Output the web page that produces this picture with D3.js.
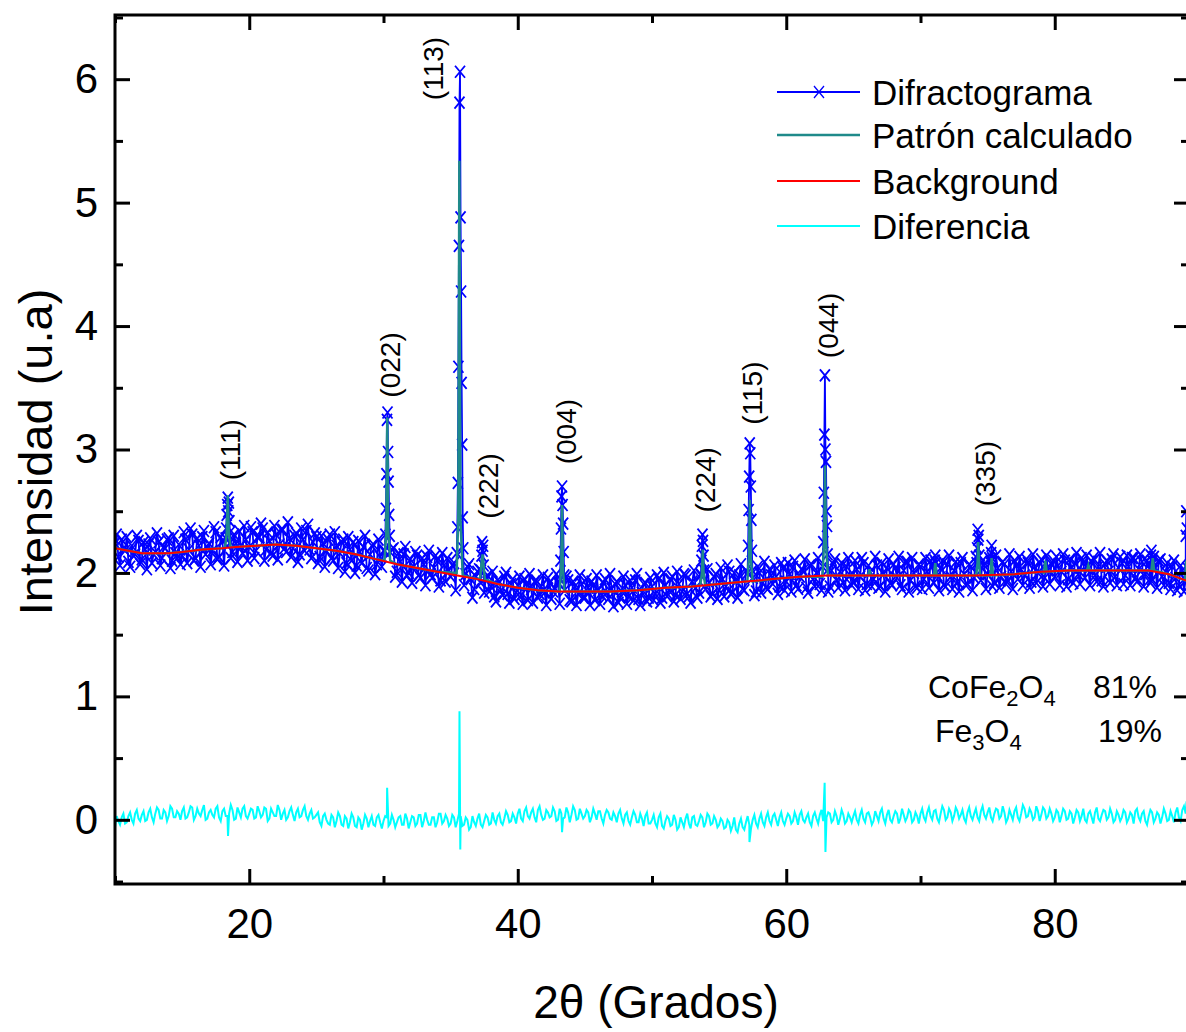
<!DOCTYPE html>
<html>
<head>
<meta charset="utf-8">
<script src="https://cdn.jsdelivr.net/npm/d3@7"></script>
<style>
  body { margin: 0; background: #fff; }
  text { font-family: "Liberation Sans", Arial, sans-serif; fill: #000; }
</style>
</head>
<body>
<div id="chart"></div>
<script>
// 2θ grid of the measured pattern (outside the peaks); a second set sits halfway between
const thetaStart = 10, thetaStep = 0.25, thetaHalf = 0.125;

// Difractograma, every 0.25° (10 … 90)
const observedGrid = [
  2.24, 2.13, 2.27, 2.18, 2.09, 2.22, 2.15, 2.26, 2.11, 2.19, 2.23, 2.08, 2.17, 2.25, 2.12, 2.20, 2.28, 2.10, 2.16, 2.23,
  2.14, 2.27, 2.19, 2.31, 2.12, 2.22, 2.29, 2.15, 2.24, 2.18, 2.33, 2.13, 2.26, 2.20, 2.30, 2.17, 2.24, 2.34, 2.16, 2.27,
  2.21, 2.33, 2.18, 2.29, 2.36, 2.19, 2.26, 2.14, 2.31, 2.23, 2.35, 2.17, 2.28, 2.20, 2.32, 2.15, 2.27, 2.34, 2.19, 2.25,
  2.29, 2.13, 2.24, 2.18, 2.31, 2.10, 2.22, 2.16, 2.27, 2.08, 2.19, 2.25, 2.06, 2.17, 2.21, 2.04, 2.15, 2.23, 2.07, 2.13,
  2.18, 2.03, 2.12, 2.20, 2.01, 2.09, 2.15, 1.98, 2.11, 2.05, 2.14, 1.96, 2.07, 2.13, 1.99, 2.04, 2.10, 1.94, 2.06, 2.12,
  1.97, 2.08, 1.93, 2.03, 1.90, 2.05, 1.95, 1.87, 2.01, 1.92, 1.84, 1.98, 1.89, 1.81, 1.94, 1.86, 1.97, 1.83, 1.91, 1.79,
  1.90, 1.82, 1.95, 1.78, 1.87, 1.93, 1.80, 1.89, 1.84, 1.96, 1.79, 1.88, 1.92, 1.81, 1.86, 1.94, 1.77, 1.89, 1.83, 1.91,
  1.80, 1.88, 1.93, 1.78, 1.86, 1.82, 1.95, 1.79, 1.87, 1.91, 1.76, 1.85, 1.90, 1.81, 1.88, 1.94, 1.79, 1.84, 1.92, 1.80,
  1.89, 1.83, 1.95, 1.80, 1.90, 1.86, 1.97, 1.82, 1.91, 1.85, 1.98, 1.81, 1.93, 1.88, 1.84, 1.96, 1.87, 1.92, 1.83, 1.99,
  1.86, 1.95, 1.89, 2.01, 1.84, 1.93, 1.98, 1.87, 2.02, 1.90, 1.96, 1.85, 2.00, 1.92, 1.88, 2.03, 1.91, 1.97, 1.89, 2.04,
  1.93, 1.99, 2.05, 1.90, 1.97, 2.02, 1.88, 2.06, 1.95, 2.00, 1.91, 2.04, 1.96, 1.89, 2.07, 1.94, 2.01, 1.92, 2.05, 1.98,
  1.93, 2.03, 1.97, 2.08, 1.91, 2.01, 1.95, 2.06, 1.89, 1.99, 2.04, 1.92, 2.07, 1.96, 1.90, 2.02, 2.09, 1.94, 2.00, 1.88,
  2.05, 1.95, 2.01, 2.10, 1.92, 1.98, 2.04, 1.90, 2.07, 1.97, 2.02, 1.93, 2.08, 1.99, 1.91, 2.05, 1.96, 2.03, 1.94, 2.06,
  1.99, 2.09, 1.92, 2.04, 1.97, 2.07, 1.94, 2.01, 2.10, 1.95, 2.03, 1.98, 2.08, 1.93, 2.05, 2.00, 2.11, 1.96, 2.02, 2.07,
  1.97, 2.06, 2.01, 2.10, 1.95, 2.04, 2.08, 1.99, 2.12, 1.96, 2.03, 2.09, 1.98, 2.05, 1.94, 2.07, 2.01, 2.11, 1.97, 2.04,
  2.08, 1.98, 2.05, 2.12, 1.96, 2.03, 2.09, 1.99, 2.06, 1.95, 2.04, 2.10, 1.97, 2.01, 1.92, 2.05, 1.96, 1.90, 2.02, 1.94,
  1.97
];

// Difractograma between those, at 10.125 … 89.875
const observedHalf = [
  2.31, 2.06, 2.20, 2.29, 2.05, 2.14, 2.30, 2.07, 2.25, 2.03, 2.28, 2.15, 2.32, 2.06, 2.21, 2.27, 2.04, 2.30, 2.12, 2.07,
  2.33, 2.08, 2.36, 2.10, 2.28, 2.05, 2.34, 2.21, 2.07, 2.37, 2.11, 2.29, 2.06, 2.35, 2.12, 2.31, 2.09, 2.22, 2.38, 2.10,
  2.37, 2.12, 2.29, 2.40, 2.10, 2.33, 2.16, 2.38, 2.11, 2.35, 2.20, 2.41, 2.13, 2.30, 2.09, 2.36, 2.18, 2.39, 2.12, 2.32,
  2.08, 2.30, 2.05, 2.27, 2.12, 2.33, 2.04, 2.25, 2.01, 2.29, 2.10, 2.00, 2.26, 2.08, 2.30, 2.02, 2.22, 1.99, 2.27, 2.05,
  2.14, 1.95, 2.19, 1.97, 2.16, 1.93, 2.21, 2.00, 1.92, 2.17, 1.98, 2.12, 1.90, 2.18, 1.96, 2.14, 1.89, 2.16, 1.93, 2.02,
  2.06, 1.86, 2.10, 1.84, 1.99, 2.07, 1.80, 1.97, 2.03, 1.78, 1.96, 1.85, 2.01, 1.77, 1.93, 1.82, 2.00, 1.76, 1.95, 1.84,
  1.97, 1.75, 1.91, 1.99, 1.76, 1.94, 1.83, 1.98, 1.74, 1.92, 1.85, 1.99, 1.75, 1.90, 1.97, 1.78, 1.93, 1.74, 1.98, 1.80,
  1.95, 1.74, 1.90, 1.98, 1.75, 1.92, 1.84, 1.99, 1.73, 1.93, 1.80, 1.97, 1.75, 1.94, 1.78, 1.99, 1.74, 1.91, 1.77, 1.96,
  1.78, 1.98, 1.76, 2.00, 1.81, 1.95, 1.77, 2.01, 1.79, 1.99, 1.83, 1.76, 2.02, 1.80, 1.99, 1.78, 2.03, 1.81, 1.97, 1.79,
  2.04, 1.81, 2.06, 1.83, 2.00, 1.80, 2.07, 1.86, 1.96, 2.08, 1.82, 2.05, 1.84, 2.09, 1.87, 1.98, 2.06, 1.83, 2.08, 1.86,
  2.08, 1.85, 2.10, 1.87, 2.03, 2.11, 1.84, 2.07, 1.89, 2.12, 1.86, 2.09, 1.85, 2.02, 2.11, 1.88, 2.08, 1.86, 2.12, 1.90,
  2.10, 1.87, 2.12, 1.86, 2.06, 1.89, 2.13, 1.88, 2.08, 1.85, 2.11, 1.90, 2.04, 2.13, 1.87, 2.09, 1.85, 2.12, 1.89, 2.07,
  1.87, 2.12, 1.88, 2.06, 2.13, 1.86, 2.10, 1.89, 2.14, 1.87, 2.09, 1.85, 2.12, 1.90, 2.07, 1.86, 2.13, 1.88, 2.10, 1.87,
  2.12, 1.89, 2.14, 1.88, 2.09, 1.91, 2.15, 1.87, 2.06, 2.13, 1.90, 2.11, 1.88, 2.15, 1.92, 2.08, 1.89, 2.14, 1.91, 2.10,
  2.13, 1.90, 2.15, 1.89, 2.11, 1.92, 2.16, 1.91, 2.08, 2.14, 1.90, 2.12, 1.93, 2.16, 1.89, 2.10, 1.92, 2.15, 1.90, 2.13,
  1.91, 2.14, 1.90, 2.12, 1.93, 2.15, 1.89, 2.10, 1.92, 2.13, 1.88, 2.11, 1.90, 2.08, 1.87, 2.10, 1.86, 2.06, 1.85, 2.04
];

// measured points on the reflections [2θ, I]
const observedPeaks = [
  [[18.24, 2.28], [18.28, 2.36], [18.32, 2.47], [18.36, 2.55], [18.40, 2.61], [18.44, 2.50], [18.48, 2.57], [18.52, 2.42], [18.56, 2.33], [18.60, 2.25]],
  [[30.10, 2.18], [30.14, 2.31], [30.18, 2.52], [30.22, 2.80], [30.26, 3.24], [30.30, 3.30], [30.34, 2.98], [30.38, 2.74], [30.42, 2.47], [30.46, 2.30], [30.50, 2.17]],
  [[35.46, 2.16], [35.50, 2.37], [35.54, 2.73], [35.58, 3.67], [35.62, 4.65], [35.66, 5.81], [35.70, 6.06], [35.74, 4.88], [35.78, 4.28], [35.82, 3.54], [35.86, 3.04], [35.90, 2.45], [35.94, 2.20]],
  [[37.26, 2.02], [37.30, 2.14], [37.34, 2.25], [37.38, 2.18], [37.42, 2.22], [37.46, 2.06]],
  [[43.14, 1.95], [43.18, 2.10], [43.22, 2.36], [43.26, 2.62], [43.30, 2.70], [43.34, 2.55], [43.38, 2.40], [43.42, 2.17], [43.46, 1.98]],
  [[53.64, 1.98], [53.68, 2.10], [53.72, 2.22], [53.76, 2.31], [53.80, 2.26], [53.84, 2.14], [53.88, 2.02]],
  [[57.12, 2.00], [57.16, 2.22], [57.20, 2.51], [57.24, 2.78], [57.28, 3.05], [57.32, 2.97], [57.36, 2.70], [57.40, 2.43], [57.44, 2.18], [57.48, 2.02]],
  [[62.72, 2.05], [62.76, 2.25], [62.80, 2.65], [62.84, 3.12], [62.88, 3.60], [62.92, 3.00], [62.96, 2.90], [63.00, 2.50], [63.04, 2.38], [63.08, 2.15], [63.12, 2.03]],
  [[71.06, 2.10], [71.10, 2.14], [71.14, 2.08]],
  [[74.18, 2.08], [74.22, 2.20], [74.26, 2.35], [74.30, 2.27], [74.34, 2.30], [74.38, 2.14], [74.42, 2.06]],
  [[75.26, 2.16], [75.30, 2.22], [75.34, 2.12]],
  [[87.16, 2.14], [87.20, 2.18], [87.24, 2.10]],
  [[89.76, 2.30], [89.80, 2.50], [89.84, 2.36]]
];

// Background (red)
const backgroundNodes = [
  [10, 2.20], [11, 2.18], [12, 2.16], [14, 2.16], [15, 2.17], [16.5, 2.19], [18, 2.20], [19, 2.21],
  [20.5, 2.22], [22, 2.23], [23.5, 2.22], [25, 2.20], [26.5, 2.18], [28, 2.15], [29.5, 2.11], [31, 2.07],
  [32.5, 2.04], [34, 2.01], [35.5, 1.98], [37, 1.95], [38.5, 1.91], [40, 1.88], [41.5, 1.86], [43, 1.85],
  [45, 1.85], [47, 1.85], [49, 1.86], [51, 1.88], [53, 1.89], [55, 1.91], [57, 1.93], [59, 1.95],
  [61, 1.97], [63, 1.98], [66, 1.98], [70, 1.98], [74, 1.98], [77, 1.99], [79, 2.01], [81, 2.02],
  [84, 2.02], [87, 2.02], [88.5, 1.99], [90, 1.93]
];

// Patrón calculado: reflections on top of the background [2θ, I]
const calculatedPeaks = [
  [[18.20, 2.21], [18.32, 2.32], [18.40, 2.63], [18.48, 2.32], [18.60, 2.21]],
  [[30.08, 2.10], [30.20, 2.32], [30.28, 3.26], [30.36, 2.32], [30.50, 2.10]],
  [[35.45, 2.00], [35.57, 2.45], [35.65, 5.34], [35.73, 2.45], [35.90, 1.98]],
  [[37.20, 1.96], [37.32, 2.10], [37.38, 2.15], [37.44, 2.08], [37.55, 1.95]],
  [[43.12, 1.85], [43.24, 2.05], [43.30, 2.55], [43.36, 2.05], [43.48, 1.85]],
  [[53.60, 1.90], [53.72, 2.00], [53.78, 2.19], [53.84, 2.00], [53.96, 1.90]],
  [[57.10, 1.93], [57.22, 2.12], [57.29, 2.59], [57.36, 2.12], [57.50, 1.93]],
  [[62.70, 1.97], [62.82, 2.25], [62.89, 2.87], [62.96, 2.25], [63.10, 1.98]],
  [[66.10, 1.98], [66.20, 2.03], [66.30, 1.98]],
  [[71.00, 1.98], [71.10, 2.08], [71.20, 1.98]],
  [[74.15, 1.98], [74.25, 2.08], [74.30, 2.25], [74.36, 2.08], [74.45, 1.98]],
  [[75.20, 1.98], [75.30, 2.12], [75.40, 1.98]],
  [[79.20, 2.00], [79.30, 2.10], [79.40, 2.01]],
  [[82.40, 2.02], [82.50, 2.06], [82.60, 2.02]],
  [[87.20, 2.02], [87.30, 2.12], [87.40, 2.02]],
  [[89.70, 1.94], [89.80, 2.10], [89.90, 1.93]]
];

// Diferencia (cyan), same 0.25° grid
const differenceGrid = [
  -0.06, -0.01, 0.02, -0.03, 0.03, 0.00, 0.05, 0.01, 0.04, -0.01, 0.06, 0.02, 0.05, 0.08, 0.01, 0.06, 0.03, 0.09, 0.02, 0.05,
  0.07, 0.01, 0.06, 0.10, 0.03, 0.05, 0.08, 0.00, 0.06, 0.04, 0.09, 0.02, 0.07, 0.03, 0.05, 0.08, 0.01, 0.06, 0.09, 0.03,
  0.05, 0.08, 0.02, 0.07, 0.04, 0.09, 0.01, 0.06, 0.03, 0.08, 0.05, 0.00, 0.07, 0.04, 0.06, 0.02, 0.08, 0.03, 0.05, 0.01,
  0.04, -0.02, 0.03, 0.00, -0.04, 0.02, -0.01, 0.03, -0.05, 0.01, -0.02, 0.02, -0.06, 0.00, -0.03, 0.01, -0.01, -0.04, 0.02, -0.02,
  -0.01, 0.02, -0.03, 0.00, -0.02, 0.03, -0.04, 0.01, -0.02, 0.02, -0.03, 0.04, -0.01, 0.00, -0.04, 0.02, -0.02, 0.05, -0.01, 0.01,
  -0.03, 0.02, -0.01, 0.03, -0.04, 0.00, -0.06, -0.02, 0.01, -0.04, -0.01, 0.02, -0.03, 0.00, 0.03, -0.02, 0.01, 0.04, -0.01, 0.02,
  0.05, 0.01, 0.07, 0.03, 0.06, 0.02, 0.08, 0.04, 0.01, 0.06, 0.03, 0.07, 0.00, 0.05, 0.02, 0.06, 0.04, 0.08, 0.01, 0.05,
  0.03, 0.06, 0.02, 0.05, 0.07, 0.01, 0.04, 0.06, 0.00, 0.03, 0.05, 0.01, 0.04, -0.01, 0.02, 0.04, -0.02, 0.01, 0.03, -0.03,
  0.00, -0.03, 0.02, -0.05, -0.01, 0.01, -0.04, 0.00, -0.06, -0.02, 0.01, -0.03, 0.02, -0.04, -0.01, 0.02, -0.02, 0.03, -0.03, 0.00,
  -0.04, -0.01, -0.06, -0.02, -0.05, -0.08, -0.03, -0.06, -0.02, -0.04, 0.00, -0.03, 0.01, -0.02, 0.02, -0.01, 0.03, 0.00, 0.02, -0.01,
  0.01, 0.03, -0.01, 0.02, 0.04, 0.00, 0.02, -0.02, 0.03, 0.01, 0.04, -0.01, 0.02, 0.05, 0.00, 0.03, 0.01, 0.04, -0.01, 0.02,
  0.03, 0.00, 0.04, 0.01, 0.05, 0.02, -0.01, 0.03, 0.06, 0.01, 0.04, 0.00, 0.03, 0.05, 0.01, 0.04, 0.02, 0.06, 0.00, 0.03,
  0.05, 0.02, 0.06, 0.03, 0.07, 0.01, 0.05, 0.08, 0.02, 0.06, 0.03, 0.07, 0.04, 0.01, 0.06, 0.03, 0.05, 0.02, 0.07, 0.04,
  0.06, 0.02, 0.05, 0.08, 0.03, 0.06, 0.01, 0.04, 0.07, 0.02, 0.05, 0.09, 0.03, 0.06, 0.02, 0.07, 0.04, 0.08, 0.03, 0.05,
  0.02, 0.06, 0.03, 0.07, 0.01, 0.05, 0.02, 0.06, 0.03, 0.00, 0.05, 0.02, 0.06, 0.01, 0.04, 0.07, 0.02, 0.05, 0.00, 0.04,
  0.02, 0.06, 0.01, 0.04, 0.07, 0.02, 0.05, -0.01, 0.03, 0.06, 0.01, 0.04, 0.02, 0.05, 0.00, 0.03, 0.06, 0.02, 0.08, 0.05,
  0.10
];

// Diferencia between those, at 10.125 … 89.875
const differenceHalf = [
  0.03, -0.04, 0.05, -0.02, 0.06, -0.03, 0.08, -0.01, 0.07, 0.00, 0.09, -0.02, 0.10, 0.01, 0.08, -0.01, 0.11, 0.02, 0.07, 0.00,
  0.10, 0.02, 0.11, 0.00, 0.09, 0.03, 0.12, 0.01, 0.08, 0.02, 0.11, -0.01, 0.09, 0.03, 0.12, 0.00, 0.10, 0.02, 0.11, 0.01,
  0.09, 0.01, 0.11, 0.02, 0.10, -0.01, 0.09, 0.03, 0.12, 0.00, 0.08, 0.02, 0.10, -0.01, 0.09, 0.03, 0.11, 0.00, 0.08, 0.02,
  0.06, -0.05, 0.05, -0.03, 0.04, -0.06, 0.06, -0.04, 0.03, -0.07, 0.05, -0.05, 0.02, -0.08, 0.04, -0.06, 0.03, -0.05, 0.04, -0.07,
  0.03, -0.05, 0.04, -0.06, 0.02, -0.04, 0.05, -0.07, 0.03, -0.05, 0.04, -0.06, 0.06, -0.04, 0.02, -0.06, 0.05, -0.03, 0.04, -0.05,
  0.04, -0.06, 0.05, -0.05, 0.02, -0.08, 0.03, -0.05, 0.05, -0.06, 0.04, -0.04, 0.06, -0.03, 0.05, -0.04, 0.07, -0.02, 0.05, -0.03,
  0.09, -0.01, 0.10, 0.01, 0.09, -0.02, 0.11, 0.00, 0.08, 0.02, 0.10, -0.01, 0.09, 0.01, 0.10, -0.02, 0.11, 0.00, 0.09, 0.01,
  0.08, -0.02, 0.09, 0.00, 0.07, -0.03, 0.08, 0.01, 0.06, -0.02, 0.08, -0.03, 0.06, -0.04, 0.07, -0.02, 0.05, -0.05, 0.06, -0.03,
  0.04, -0.06, 0.05, -0.07, 0.03, -0.05, 0.04, -0.08, 0.02, -0.06, 0.05, -0.07, 0.03, -0.05, 0.04, -0.06, 0.05, -0.04, 0.03, -0.06,
  0.01, -0.07, 0.00, -0.09, 0.02, -0.10, 0.01, -0.08, 0.03, -0.07, 0.04, -0.06, 0.05, -0.05, 0.06, -0.04, 0.05, -0.05, 0.06, -0.04,
  0.05, -0.03, 0.06, -0.04, 0.07, -0.02, 0.05, -0.05, 0.06, -0.03, 0.08, -0.04, 0.06, -0.02, 0.07, -0.04, 0.08, -0.03, 0.05, -0.02,
  0.07, -0.03, 0.08, -0.02, 0.06, -0.04, 0.07, -0.01, 0.09, -0.03, 0.08, -0.02, 0.07, -0.03, 0.09, -0.01, 0.08, -0.02, 0.06, -0.03,
  0.09, -0.01, 0.10, 0.00, 0.08, -0.02, 0.11, 0.00, 0.09, -0.01, 0.10, 0.01, 0.08, -0.02, 0.10, 0.00, 0.09, -0.01, 0.11, 0.01,
  0.10, -0.01, 0.09, 0.01, 0.11, -0.02, 0.08, 0.00, 0.10, -0.01, 0.12, 0.02, 0.09, 0.00, 0.11, -0.01, 0.10, 0.01, 0.09, -0.01,
  0.08, -0.02, 0.09, 0.00, 0.07, -0.03, 0.08, -0.01, 0.09, -0.02, 0.07, -0.03, 0.10, -0.01, 0.08, 0.00, 0.09, -0.02, 0.07, -0.01,
  0.08, -0.02, 0.06, -0.03, 0.09, -0.01, 0.07, -0.04, 0.08, -0.02, 0.06, -0.03, 0.09, -0.01, 0.07, -0.02, 0.10, -0.01, 0.11, 0.03
];

// spikes of the difference at the reflections [2θ, Δ]
const differenceSpikes = [
  [[18.42, -0.13]],
  [[30.27, 0.26]],
  [[35.66, 0.88], [35.72, -0.24]],
  [[43.30, -0.10]],
  [[57.26, -0.18]],
  [[62.86, 0.30], [62.92, -0.26]],
  [[89.82, 0.15]]
];

// Miller indices and where their labels sit (2θ, intensity at label foot)
const peakLabels = ["(111)", "(022)", "(113)", "(222)", "(004)", "(224)", "(115)", "(044)", "(335)"];
const peakLabelTheta = [18.57, 30.48, 33.69, 37.78, 43.6, 53.95, 57.45, 63.11, 74.8];
const peakLabelBase = [2.75, 3.42, 5.83, 2.44, 2.88, 2.49, 3.20, 3.74, 2.54];

const legendNames = ["Difractograma", "Patrón calculado", "Background", "Diferencia"];
const legendColors = ["#0000ff", "#1f8a8a", "#ff0000", "#00ffff"];

const xTicks = [20, 40, 60, 80];
const xMinorTicks = [10, 30, 50, 70, 90];
const yTicks = [0, 1, 2, 3, 4, 5, 6];
const yMinorTicks = [-0.5, 0.5, 1.5, 2.5, 3.5, 4.5, 5.5, 6.5];

const width = 1186, height = 1032;
const frame = { left: 115, right: 1189, top: 15, bottom: 884 };

const x = d3.scaleLinear().domain([10, 90]).range([frame.left, frame.right]);
const y = d3.scaleLinear().domain([-0.52, 6.52]).range([frame.bottom, frame.top]);

// put the grid and the peak points together, peaks replace the grid inside their window
function mergeSeries(grid, peaks) {
    const windows = peaks.map(p => d3.extent(p, d => d[0]));
    const pts = grid.filter(d => !windows.some(w => d[0] >= w[0] && d[0] <= w[1]));
    return pts.concat(...peaks).sort((a, b) => a[0] - b[0]);
}

function gridPoints(main, half) {
    return main.map((v, i) => [thetaStart + i * thetaStep, v])
        .concat(half.map((v, i) => [thetaStart + thetaHalf + i * thetaStep, v]));
}

const observed = mergeSeries(gridPoints(observedGrid, observedHalf), observedPeaks);
const calculated = mergeSeries(backgroundNodes, calculatedPeaks);
const difference = mergeSeries(gridPoints(differenceGrid, differenceHalf), differenceSpikes);

const line = d3.line().x(d => x(d[0])).y(d => y(d[1]));
const cross = "M-5,-6L5,6M-5,6L5,-6";

const svg = d3.select("#chart").append("svg")
    .attr("width", width)
    .attr("height", height);

svg.append("rect").attr("width", width).attr("height", height).attr("fill", "#fff");

svg.append("clipPath").attr("id", "plot-clip")
    .append("rect")
    .attr("x", frame.left).attr("y", frame.top)
    .attr("width", frame.right - frame.left).attr("height", frame.bottom - frame.top);

const plot = svg.append("g").attr("clip-path", "url(#plot-clip)");

// Difractograma
plot.append("path")
    .datum(observed)
    .attr("d", line)
    .attr("fill", "none")
    .attr("stroke", legendColors[0])
    .attr("stroke-width", 1.8);

plot.append("g")
    .selectAll("path")
    .data(observed)
    .join("path")
    .attr("transform", d => "translate(" + x(d[0]) + "," + y(d[1]) + ")")
    .attr("d", cross)
    .attr("fill", "none")
    .attr("stroke", legendColors[0])
    .attr("stroke-width", 1.8);

// Patrón calculado
plot.append("path")
    .datum(calculated)
    .attr("d", line)
    .attr("fill", "none")
    .attr("stroke", legendColors[1])
    .attr("stroke-width", 2.5);

// Background
plot.append("path")
    .datum(backgroundNodes)
    .attr("d", line)
    .attr("fill", "none")
    .attr("stroke", legendColors[2])
    .attr("stroke-width", 2);

// Diferencia
plot.append("path")
    .datum(difference)
    .attr("d", line)
    .attr("fill", "none")
    .attr("stroke", legendColors[3])
    .attr("stroke-width", 2);

// peak labels
svg.append("g")
    .selectAll("text")
    .data(peakLabels)
    .join("text")
    .attr("transform", (d, i) => "translate(" + x(peakLabelTheta[i]) + "," + y(peakLabelBase[i]) + ") rotate(-90)")
    .attr("dy", "0.35em")
    .attr("font-size", 28)
    .text(d => d);

// axes, ticks pointing inward on all four sides
function styleAxis(g) {
    g.select(".domain").remove();
    g.selectAll(".tick line").attr("stroke", "#000").attr("stroke-width", 3);
    g.selectAll("text").attr("font-size", 42).attr("fill", "#000")
        .attr("font-family", "'Liberation Sans', Arial, sans-serif");
}

svg.append("g")
    .attr("transform", "translate(0," + frame.bottom + ")")
    .call(d3.axisBottom(x).tickValues(xTicks).tickSizeInner(-15).tickSizeOuter(0).tickPadding(24))
    .call(styleAxis);
svg.append("g")
    .attr("transform", "translate(0," + frame.bottom + ")")
    .call(d3.axisBottom(x).tickValues(xMinorTicks).tickSizeInner(-8).tickSizeOuter(0).tickFormat(""))
    .call(styleAxis);
svg.append("g")
    .attr("transform", "translate(0," + frame.top + ")")
    .call(d3.axisTop(x).tickValues(xTicks).tickSizeInner(-15).tickSizeOuter(0).tickFormat(""))
    .call(styleAxis);
svg.append("g")
    .attr("transform", "translate(0," + frame.top + ")")
    .call(d3.axisTop(x).tickValues(xMinorTicks).tickSizeInner(-8).tickSizeOuter(0).tickFormat(""))
    .call(styleAxis);

svg.append("g")
    .attr("transform", "translate(" + frame.left + ",0)")
    .call(d3.axisLeft(y).tickValues(yTicks).tickFormat(d3.format("d")).tickSizeInner(-15).tickSizeOuter(0).tickPadding(17))
    .call(styleAxis);
svg.append("g")
    .attr("transform", "translate(" + frame.left + ",0)")
    .call(d3.axisLeft(y).tickValues(yMinorTicks).tickSizeInner(-8).tickSizeOuter(0).tickFormat(""))
    .call(styleAxis);
svg.append("g")
    .attr("transform", "translate(" + frame.right + ",0)")
    .call(d3.axisRight(y).tickValues(yTicks).tickSizeInner(-15).tickSizeOuter(0).tickFormat(""))
    .call(styleAxis);
svg.append("g")
    .attr("transform", "translate(" + frame.right + ",0)")
    .call(d3.axisRight(y).tickValues(yMinorTicks).tickSizeInner(-8).tickSizeOuter(0).tickFormat(""))
    .call(styleAxis);

// frame
svg.append("rect")
    .attr("x", frame.left).attr("y", frame.top)
    .attr("width", frame.right - frame.left).attr("height", frame.bottom - frame.top)
    .attr("fill", "none")
    .attr("stroke", "#000")
    .attr("stroke-width", 3);

// axis titles
svg.append("text")
    .attr("x", 656).attr("y", 1018)
    .attr("text-anchor", "middle")
    .attr("font-size", 46)
    .text("2θ (Grados)");

svg.append("text")
    .attr("transform", "translate(52,452) rotate(-90)")
    .attr("text-anchor", "middle")
    .attr("font-size", 47)
    .text("Intensidad (u.a)");

// legend
const legend = svg.append("g");
const legendRows = legend.selectAll("g")
    .data(legendNames)
    .join("g")
    .attr("transform", (d, i) => "translate(777," + [92, 135, 181, 226][i] + ")");

legendRows.append("line")
    .attr("x1", 0).attr("x2", 83)
    .attr("stroke", (d, i) => legendColors[i])
    .attr("stroke-width", (d, i) => i === 1 ? 2.5 : 2);

legendRows.filter((d, i) => i === 0)
    .append("path")
    .attr("transform", "translate(42,0)")
    .attr("d", cross)
    .attr("fill", "none")
    .attr("stroke", legendColors[0])
    .attr("stroke-width", 1.3);

legendRows.append("text")
    .attr("x", 95)
    .attr("dy", "0.36em")
    .attr("font-size", 35)
    .text(d => d);

// phase fractions
const phases = svg.append("g").attr("font-size", 32);

const p1 = phases.append("text").attr("x", 928).attr("y", 698);
p1.append("tspan").text("CoFe");
p1.append("tspan").attr("font-size", 22).attr("dy", 8).text("2");
p1.append("tspan").attr("dy", -8).text("O");
p1.append("tspan").attr("font-size", 22).attr("dy", 8).text("4");
phases.append("text").attr("x", 1093).attr("y", 698).text("81%");

const p2 = phases.append("text").attr("x", 935).attr("y", 742);
p2.append("tspan").text("Fe");
p2.append("tspan").attr("font-size", 22).attr("dy", 8).text("3");
p2.append("tspan").attr("dy", -8).text("O");
p2.append("tspan").attr("font-size", 22).attr("dy", 8).text("4");
phases.append("text").attr("x", 1098).attr("y", 742).text("19%");
</script>
</body>
</html>
